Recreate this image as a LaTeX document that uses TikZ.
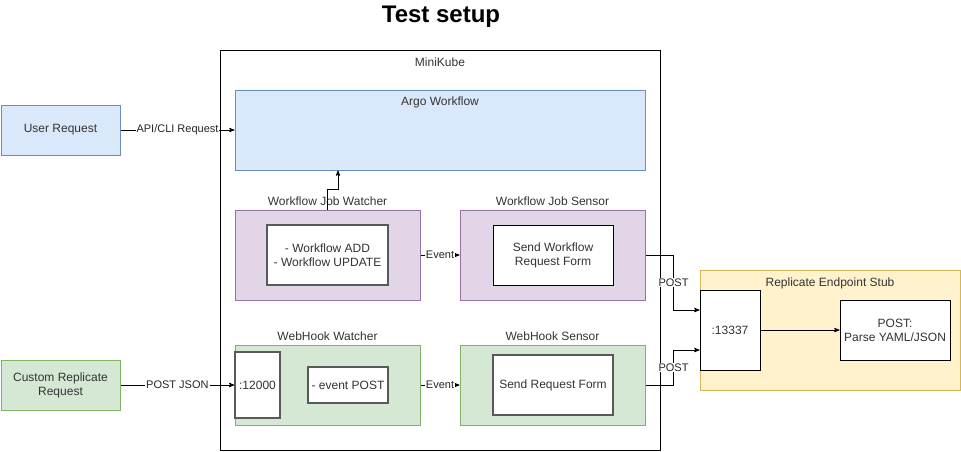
\documentclass[tikz,border=0pt]{standalone}
\usepackage{fontspec}
\setmainfont{Liberation Sans}
\usepackage{xcolor}
\usetikzlibrary{positioning,arrows}
\definecolor{bluefill}{HTML}{DAE8FC}
\definecolor{bluedraw}{HTML}{6C8EBF}
\definecolor{purpfill}{HTML}{E1D5E7}
\definecolor{purpdraw}{HTML}{9673A6}
\definecolor{grnfill}{HTML}{D5E8D4}
\definecolor{grndraw}{HTML}{82B366}
\definecolor{ylwfill}{HTML}{FFF2CC}
\definecolor{ylwdraw}{HTML}{D6B656}

\begin{document}
\begin{tikzpicture}[x=1pt,y=-1pt,font=\fontsize{12}{14}\selectfont,
		outer/.style={draw,rectangle,inner sep=0pt,line width=1pt,text=black!80,align=center},
		blu/.style={outer,fill=bluefill,draw=bluedraw},
		purp/.style={outer,fill=purpfill,draw=purpdraw},
		grn/.style={outer,fill=grnfill,draw=grndraw},
		ylw/.style={outer,fill=ylwfill,draw=ylwdraw},
		inbox/.style={outer,fill=white,draw=black!65,line width=1.4pt},
		plain/.style={outer,fill=white,draw=black},
		lbl/.style={inner sep=1pt,text=black!80},
		edgelbl/.style={fill=white,inner sep=1pt,text=black!85,font=\fontsize{11}{13}\selectfont},
		conn/.style={->,>=stealth',draw=black,line width=0.9pt}]
		\useasboundingbox (0,0) rectangle (961,451);

		\node[font=\bfseries\fontsize{24}{28}\selectfont] (title) at (441,17) {Test setup};

		% minikube and its parts
		\node[outer,draw=black,minimum width=440,minimum height=400] (minikube) at (440,250) {};
		\node[lbl] (minikubelbl) [below=7pt of minikube.north] {MiniKube};

		\node[blu,minimum width=410,minimum height=80] (argo) at (440,130) {};
		\node[lbl] (argolbl) [below=6pt of argo.north] {Argo Workflow};

		\node[purp,minimum width=185,minimum height=90] (wjw) at (327.5,255) {};
		\node[lbl] (wjwlbl) [above=3pt of wjw] {Workflow Job Watcher};
		\node[inbox,minimum width=121,minimum height=60] (wjwin) at (327.5,255) {- Workflow ADD\\- Workflow UPDATE};

		\node[purp,minimum width=185,minimum height=90] (wjs) at (552.5,255) {};
		\node[lbl] (wjslbl) [above=3pt of wjs] {Workflow Job Sensor};
		\node[plain,minimum width=120,minimum height=60] (wjsin) at (553,255) {Send Workflow\\Request Form};

		\node[grn,minimum width=185,minimum height=80] (whw) at (327.5,385) {};
		\node[lbl] (whwlbl) [above=3pt of whw] {WebHook Watcher};
		\node[inbox,minimum width=45,minimum height=66] (port12000) at (257.5,385) {:12000};
		\node[inbox,minimum width=80,minimum height=36] (evpost) at (348,385) {- event POST};

		\node[grn,minimum width=185,minimum height=80] (whs) at (552.5,385) {};
		\node[lbl] (whslbl) [above=3pt of whs] {WebHook Sensor};
		\node[inbox,minimum width=120,minimum height=60] (whsin) at (553,385) {Send Request Form};

		% outside
		\node[blu,minimum width=119,minimum height=50] (user) at (60.5,130) {User Request};
		\node[grn,minimum width=119,minimum height=50] (custom) at (60.5,385) {Custom Replicate\\Request};

		\node[ylw,minimum width=260,minimum height=120] (stub) at (830,330) {};
		\node[lbl] (stublbl) [below=7pt of stub.north] {Replicate Endpoint Stub};
		\node[plain,minimum width=60,minimum height=80] (port13337) at (730,330) {:13337};
		\node[plain,minimum width=110,minimum height=60] (parse) at (895,330) {POST:\\Parse YAML/JSON};

		% connectors
		\draw[conn] (user) -- node[edgelbl]{API/CLI Request} (argo.west |- user);
		\draw[conn] (custom) -- node[edgelbl]{POST JSON} (port12000);
		\draw[conn] (wjw.north) -- ++(0,-20) -| ([xshift=-102pt]argo.south);
		\draw[conn] (wjw) -- node[edgelbl]{Event} (wjs);
		\draw[conn] (whw) -- node[edgelbl]{Event} (whs);
		\draw[conn] (wjs.east) -- ++(28,0) |- node[edgelbl,pos=0.25]{POST} ([yshift=20pt]port13337.west);
		\draw[conn] (whs.east) -- ++(28,0) |- node[edgelbl,pos=0.25]{POST} ([yshift=-20pt]port13337.west);
		\draw[conn] (port13337) -- (parse);
	\end{tikzpicture}
\end{document}
